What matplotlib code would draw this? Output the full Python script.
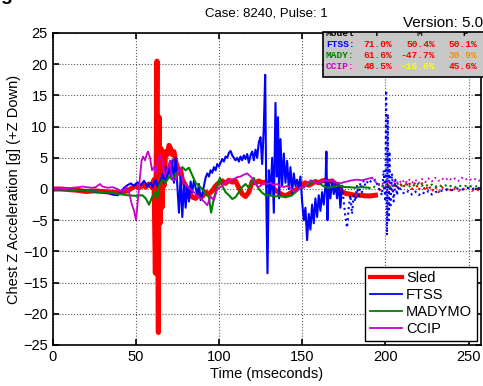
import matplotlib
matplotlib.use('Agg')
import matplotlib.pyplot as plt
from matplotlib.patches import Rectangle
import numpy as np

plt.rcParams['font.family'] = ['Liberation Sans', 'DejaVu Sans']

# time (ms) / chest Z acceleration (g)
sled_t = [0, 5, 10, 15, 20, 25, 30, 35, 40, 45, 48, 50, 52, 54, 56, 58, 60, 61, 61.8, 62.3,
          62.8, 63.2, 63.6, 64.1, 64.6, 65.2, 65.8, 66.5, 67, 68, 69, 70, 71, 72, 73, 74, 75,
          76, 77, 78, 80, 82, 84, 86, 88, 90, 92, 94, 96, 98, 100, 102, 104, 106, 108, 110,
          112, 114, 116, 118, 120, 122, 124, 126, 128, 130, 132, 134, 136, 138, 140, 142, 144,
          146, 148, 150, 152, 154, 156, 158, 160, 162, 164, 166, 168, 170, 172, 174, 176, 178,
          180, 182, 185, 188, 191, 194, 196, 198, 200, 202, 204, 206, 208, 210, 212, 214, 216,
          218, 220, 222, 224, 226, 228, 230, 232, 234, 236, 238, 240, 242, 244, 246, 248, 250,
          252, 254, 256, 258]
sled_g = [0, 0, -0.1, -0.2, -0.4, -0.3, -0.4, -0.5, -0.6, -0.3, 0.2, 0.5, 0.2, 0.6, 0.3, 0.8,
          0.2, 1.5, -13.5, 3, 20.5, -6, -23, 11.5, -5.5, 6.5, -3, 4, 0.5, 6, 5.5, 7, 6.5, 5.5,
          6, 4.5, 3.5, 2.5, 3, 1.5, 0.5, -0.5, -1.3, -1.5, -0.8, -1.2, -0.5, -0.8, -0.3, 0.5,
          1, 1.3, 0.9, 1.4, 1.1, 1.3, 0.2, -0.8, -1.2, -0.5, 1.2, 1.0, 1.3, 1.0, 1.1, 0.5, 0.2,
          -0.2, -0.6, -0.9, -1.1, -0.8, -0.5, -0.2, 0.3, 0.7, 1.0, 0.6, 0.9, 1.2, 1.0, 1.3, 1.4,
          1.2, 1.3, 0.8, 0.2, -0.4, -0.7, -0.8, -0.9, -1.0, -1.0, -1.1, -1.1, -1.0, -0.4, 0.3,
          0.0, 0.6, -0.2, 0.8, 0.1, 1.0, 0.2, 1.2, 0.0, 1.1, -0.2, 0.9, -0.3, 0.6, -0.4, 0.4,
          -0.5, 0.3, -0.3, 0.2, -0.4, 0.1, -0.3, 0.2, -0.2, 0.2, -0.3, 0.1, -0.2, 0.0]
sled_cut = 194

ftss_t = [0, 5, 10, 15, 20, 25, 30, 33, 36, 39, 41, 43, 45, 47, 49, 51, 53, 55, 57, 59, 60, 62,
          63, 65, 66, 67, 68, 69, 70, 71, 72, 73, 74, 75, 76, 77, 78, 79, 80, 81, 82, 83, 84,
          85, 86, 87, 88, 89, 90, 91, 92, 93, 94, 95, 96, 97, 98, 99, 100, 101, 102, 103, 104,
          105, 106, 107, 108, 109, 110, 111, 112, 113, 114, 115, 116, 117, 118, 119, 120, 121,
          122, 123, 124, 125, 126, 127, 127.8, 128.5, 129.2, 130, 131, 132, 133, 134, 134.8,
          135.5, 136.2, 137, 138, 139, 140, 141, 142, 143, 144, 145, 146, 147, 148, 149, 150,
          151, 152, 153, 154, 155, 156, 157, 158, 159, 160, 161, 162, 163, 164, 164.6, 165.2,
          166, 167, 168, 169, 170, 171, 172, 173, 174, 175, 176, 177, 178, 179, 180, 181, 182,
          183, 184, 185, 186, 187, 188, 190, 192, 194, 196, 198, 199, 200, 200.5, 201, 201.5,
          202, 202.5, 203, 204, 205, 206, 207, 208, 210, 212, 214, 216, 218, 220, 222, 224, 226,
          228, 230, 232, 235, 238, 240, 243, 246, 249, 252, 255, 258]
ftss_g = [0, -0.1, 0, -0.2, -0.3, -0.4, -0.5, -0.6, -0.9, -1.0, -0.6, 0.2, 0.6, 0.9, 0.5, 1.1,
          0.6, 1.3, 0.4, 1.0, 0.3, 1.5, 0.5, 1.2, 2.5, 1.0, 3.5, 1.5, 4.0, 2.0, 4.6, 1.0, 5.0,
          0.5, -3.8, 2.0, -4.5, 1.0, -3.0, 0.5, -2.0, 1.2, -0.5, 1.4, 0.2, -1.0, 0.8, -1.8,
          -0.8, 0.5, 1.8, 2.5, 2.0, 3.0, 2.6, 3.5, 3.0, 4.0, 3.6, 4.2, 4.8, 4.4, 5.2, 5.0, 5.8,
          6.1, 5.4, 5.0, 4.6, 5.0, 4.4, 5.2, 4.6, 5.4, 4.8, 5.6, 4.2, 5.4, 6.0, 4.6, 6.3, 5.0,
          7.5, 8.3, 4.0, 10.0, 18.3, -2.0, -13.5, 3.0, -1.0, 5.0, -3.8, 13.8, 2.0, 11.5, -1.5,
          8.0, 0.5, 5.7, 1.0, 4.5, 0.0, 3.5, -0.7, 2.5, 0.5, 1.5, 0.2, 2.0, -2.0, -5.0, -3.0,
          -8.2, -4.0, -6.5, -2.5, -5.5, -1.5, -4.5, -1.0, -3.5, -0.5, -2.5, 0.5, 6.0, -5.0, 1.0,
          -1.5, 1.4, -0.8, 0.8, -1.5, 1.0, -3.0, 0.5, -2.0, -4.5, -6.2, -3.0, -1.0, -4.0, -1.0,
          -2.0, 0.5, -1.5, 1.0, -0.5, 1.4, 0.5, 1.5, 1.0, 1.5, 0.2, -1.0, 3.0, -2.0, 15.8, -7.4,
          12.0, -5.0, 6.0, -3.0, 2.5, -2.0, 1.5, -1.0, 0.5, -0.5, -0.8, -0.3, -0.9, -0.4, -1.0,
          -0.5, -0.8, -0.3, -0.9, -0.5, -0.4, -0.2, 0.0, -0.2, 0.1, -0.1, 0.2, 0.0, 0.2, 0.1]
ftss_cut = 174

mady_t = [0, 5, 10, 15, 20, 25, 30, 35, 40, 45, 50, 54, 56, 58, 60, 62, 63, 64, 66, 68, 70, 72,
          74, 76, 78, 80, 82, 84, 86, 88, 90, 92, 94, 95.3, 97, 99, 100.6, 102, 104, 106, 108,
          110, 112, 114, 116, 118, 120, 121, 122, 124, 126, 128, 130, 132, 134, 136, 138, 140,
          142, 144, 146, 148, 150, 152, 154, 156, 158, 160, 162, 164, 166, 168, 170, 172, 174,
          176, 178, 182, 186, 190, 192, 194, 196, 198, 200, 202, 204, 206, 208, 210, 212, 214,
          216, 218, 220, 222, 224, 226, 228, 230, 232, 234, 236, 238, 240, 242, 244, 246, 248,
          250, 252, 254, 256, 258]
mady_g = [0, -0.1, -0.1, -0.2, -0.3, -0.4, -0.5, -0.6, -0.8, -1.0, -1.1, -1.0, -1.5, -2.5,
          -1.2, -0.5, -1.5, 0.5, 1.5, 1.0, 2.0, 1.5, 2.5, 2.8, 3.5, 3.0, 3.4, 2.2, 1.0, 0.5,
          0.0, -0.8, -1.3, -3.8, -1.5, 0.5, 1.8, 0.5, -0.5, -1.0, -1.6, -1.3, -0.5, 0.3, 0.8,
          0.2, 1.2, 1.8, 1.0, 0.0, -0.6, -1.0, -1.0, -1.1, -1.2, -1.1, -1.2, -1.1, -1.2, -1.0,
          -0.5, 0.0, 0.2, 0.5, 0.8, 1.0, 1.2, 1.0, 0.6, 0.3, 0.2, 0.3, 0.4, 0.6, 0.4, 0.3, 0.3,
          0.2, 0.3, 0.2, 0.0, 0.5, 0.8, 0.3, 0.9, 0.2, 0.8, 0.4, 1.0, 0.5, 0.9, 0.3, 0.8, 0.4,
          0.9, 0.5, 0.8, 0.4, 0.7, 0.3, 0.7, 0.4, 0.6, 0.3, 0.6, 0.3, 0.6, 0.4, 0.5, 0.3, 0.5,
          0.4, 0.5, 0.4]
mady_cut = 190

ccip_t = [0, 4, 8, 12, 16, 18, 20, 24, 26, 28.5, 30, 33, 36, 39, 41, 43, 44.5, 46, 47.5, 49,
          50.2, 51.4, 52.6, 53.5, 54.4, 55.6, 56.8, 57.4, 58.6, 59.8, 61, 62, 63.4, 64.6, 65.8,
          66.4, 67.6, 68.8, 70, 70.6, 71.5, 72.4, 74, 75.4, 76.5, 78.5, 80.8, 82.6, 85, 87, 89,
          91, 93, 95, 97, 99, 101, 103, 105, 107, 109, 111, 113, 115, 117, 119, 120.7, 122,
          123.5, 125, 127, 129, 131, 133, 135, 137, 139, 141, 143, 145, 147, 149, 151, 153, 155,
          157, 159, 161, 163, 165, 167, 169, 171, 173, 175, 177, 180, 183, 186, 189, 192, 194,
          196, 198, 200, 202, 204, 206, 208, 210, 212, 214, 216, 218, 220, 222, 224, 226, 228,
          230, 232, 234, 236, 238, 240, 242, 244, 246, 248, 250, 252, 254, 256, 258]
ccip_g = [0, 0.1, 0.0, 0.2, 0.3, 0.4, 0.3, 0.2, 0.3, 0.8, 0.4, 0.2, 0.3, 0.0, -0.3, -0.2, 0.3,
          -0.5, -2.3, -3.5, -5.0, -1.5, 2.0, 4.5, 5.2, 4.6, 5.7, 6.0, 5.0, 3.0, 3.5, 2.5, 4.5,
          5.4, 4.5, 3.5, 2.0, 3.0, 4.0, 4.6, 2.0, 1.4, 1.5, 2.7, 3.5, 1.0, 0.5, 0.0, -0.5,
          -1.2, -1.5, -2.0, -2.6, -1.2, -1.8, 0.0, 0.3, 0.8, 1.2, 1.5, 1.6, 1.9, 2.0, 2.3, 2.5,
          2.0, 1.5, 0.8, 0.3, 0.5, 1.0, 0.8, 1.0, 0.6, 0.8, 0.4, 0.3, 0.5, 0.2, -0.4, -0.3, 0.3,
          0.2, 0.8, 1.4, 1.2, 1.0, 1.2, 1.4, 1.3, 1.4, 1.2, 1.0, 0.9, 1.1, 1.2, 1.4, 1.5, 1.4,
          1.6, 1.8, 1.2, 0.6, 1.0, 0.4, 1.2, 0.6, 1.4, 0.8, 1.5, 0.9, 1.6, 1.0, 1.5, 0.9, 1.6,
          1.1, 1.7, 1.2, 1.8, 1.3, 1.7, 1.4, 1.8, 1.4, 1.7, 1.3, 1.8, 1.5, 1.7, 1.4, 1.6, 1.3,
          1.5]
ccip_cut = 192

series = [
    ('Sled', sled_t, sled_g, sled_cut, '#ff0000', 3.6),
    ('FTSS', ftss_t, ftss_g, ftss_cut, '#0000ff', 1.5),
    ('MADYMO', mady_t, mady_g, mady_cut, '#008000', 1.5),
    ('CCIP', ccip_t, ccip_g, ccip_cut, '#cc00cc', 1.3),
]

# correlation table
models = ['FTSS:', 'MADY:', 'CCIP:']
model_colors = ['#0000ff', '#008000', '#cc00cc']
table_cols = ['T', 'M', 'P']
table_vals = [['71.0%', '50.4%', '50.1%'],
              ['61.6%', '-47.7%', '38.9%'],
              ['48.5%', '-16.6%', '45.6%']]
table_colors = [['#ff0000', '#ff0000', '#ff0000'],
                ['#ff0000', '#ff0000', '#ff8c00'],
                ['#ff0000', '#ffff00', '#ff0000']]

W, H = 483, 386
fig = plt.figure(figsize=(W / 100, H / 100), dpi=100)
ax = fig.add_axes([52.5 / W, 1 - 345 / H, (481 - 52.5) / W, (345 - 33) / H])

for name, t, g, cut, c, lw in series:
    t = np.array(t)
    g = np.array(g)
    solid = t <= cut
    dotted = t >= cut
    ax.plot(t[solid], g[solid], color=c, lw=lw, label=name)
    ax.plot(t[dotted], g[dotted], color=c, lw=min(lw, 1.6), ls=':')

ax.set_xlim(0, 257.5)
ax.set_ylim(-25, 25)
ax.set_xticks([0, 50, 100, 150, 200, 250])
ax.set_yticks(np.arange(-25, 26, 5))
ax.grid(True, ls=':', color='0.35', lw=0.8)
ax.tick_params(direction='in', top=True, right=True, length=4, labelsize=10.5, width=1.2)
for s in ax.spines.values():
    s.set_linewidth(1.2)
ax.set_xlabel('Time (mseconds)', fontsize=10.5, labelpad=2)
ax.set_ylabel('Chest Z Acceleration [g] (+Z Down)', fontsize=10.5, labelpad=1)
ax.set_title('Case: 8240, Pulse: 1', fontsize=9.5, pad=12)

leg = ax.legend(loc='lower right', fontsize=10.5, fancybox=False, framealpha=1,
                edgecolor='black', borderaxespad=0.3, handlelength=2.2,
                handletextpad=0.3, labelspacing=0.2, borderpad=0.3)
leg.get_frame().set_linewidth(1.0)
for h in leg.get_lines():
    h.set_linewidth(1.3)
leg.get_lines()[0].set_linewidth(3)

fig.text(483 / W, 1 - 27 / H, 'Version: 5.0', ha='right', va='baseline', fontsize=11)
fig.text(0.0, 1.012, 'g', fontsize=14, fontweight='bold', va='center')

# gray table box
box = Rectangle((323 / W, 1 - 77 / H), 170 / W, 45 / H, transform=fig.transFigure,
                facecolor='#c8c8c8', edgecolor='black', lw=1.2, zorder=5)
fig.patches.append(box)
mono = dict(family='Liberation Mono', fontweight='bold', fontsize=6.8, zorder=6)
hdr_y = 1 - 34 / H
txt = fig.text(326 / W, hdr_y, 'Model', va='center', color='black', **mono)
txt.set_clip_path(box)
for cx, lab in zip([377, 419, 465], table_cols):
    txt = fig.text(cx / W, hdr_y, lab, va='center', ha='center', color='black', **mono)
    txt.set_clip_path(box)
for i, m in enumerate(models):
    y = 1 - (44.5 + 11 * i) / H
    fig.text(326 / W, y, m, va='center', color=model_colors[i], **mono)
    for j, rx in enumerate([392, 435, 477]):
        fig.text(rx / W, y, table_vals[i][j], va='center', ha='right',
                 color=table_colors[i][j], **mono)

fig.savefig('out.png', dpi=100)
